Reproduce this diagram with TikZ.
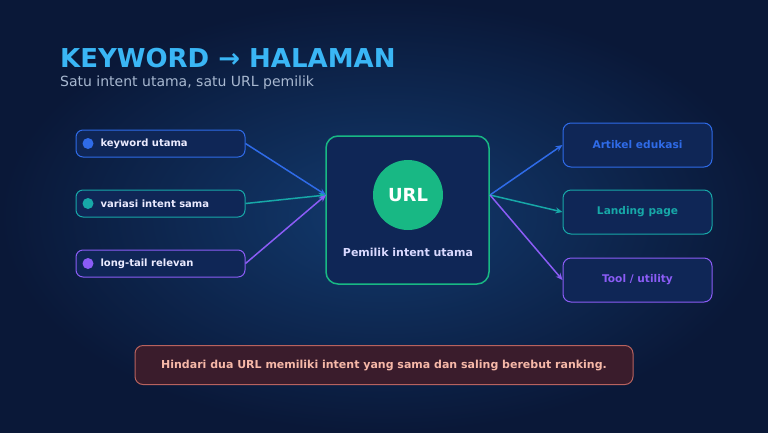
\documentclass[tikz,border=0pt]{standalone}
\usepackage{fontspec}
\setmainfont{DejaVu Sans}
\usetikzlibrary{arrows.meta}
\definecolor{bg}{HTML}{0A1838}
\definecolor{glow}{HTML}{123A6E}
\definecolor{cblue}{HTML}{2F6BE8}
\definecolor{cteal}{HTML}{17A8A8}
\definecolor{cpurp}{HTML}{8B5CF6}
\definecolor{cgreen}{HTML}{18B884}
\definecolor{boxfill}{HTML}{0F2656}
\definecolor{ttl}{HTML}{3AB6F5}
\definecolor{sub}{HTML}{A8B8D0}
\definecolor{warnfill}{HTML}{3A1C2C}
\definecolor{warnline}{HTML}{B8625E}
\definecolor{warntext}{HTML}{F6B8A8}
\begin{document}
\begin{tikzpicture}[x=1pt,y=-1pt,
  inbox/.style={draw=#1,line width=1pt,fill=boxfill,rounded corners=7pt,minimum width=169pt,minimum height=27pt},
  outbox/.style={draw=#1,line width=1pt,fill=boxfill,rounded corners=8pt,minimum width=149pt,minimum height=44pt,text=#1,font=\bfseries\fontsize{10.6}{12}\selectfont},
  lbl/.style={anchor=west,text=white!92!blue,font=\bfseries\fontsize{10}{11}\selectfont},
  arr/.style={draw=#1,line width=1.5pt,-{Stealth[length=7pt,width=6pt]}}]
\useasboundingbox (0,0) rectangle (768,432);
\fill[bg] (0,0) rectangle (768,432);
\fill[inner color=glow,outer color=bg] (0,0) rectangle (768,432);
\node[anchor=base west,text=ttl,font=\bfseries\fontsize{26}{30}\selectfont,inner sep=0] (title) at (60,67) {KEYWORD → HALAMAN};
\node[anchor=base west,text=sub,font=\fontsize{14}{16}\selectfont,inner sep=0] (subt) at (60,86) {Satu intent utama, satu URL pemilik};
\node[inbox=cblue] (k1) at (160.5,143.5) {};
\node[inbox=cteal] (k2) at (160.5,203.5) {};
\node[inbox=cpurp] (k3) at (160.5,263.5) {};
\fill[cblue] (88,143.5) circle (5.5);
\fill[cteal] (88,203.5) circle (5.5);
\fill[cpurp] (88,263.5) circle (5.5);
\node[lbl] (t1) at (97,143.5) {keyword utama};
\node[lbl] (t2) at (97,203.5) {variasi intent sama};
\node[lbl] (t3) at (97,263.5) {long-tail relevan};
\node[draw=cgreen,line width=1.5pt,fill=boxfill,rounded corners=12pt,minimum width=163pt,minimum height=148pt] (c) at (407.5,210) {};
\node[circle,fill=cgreen,minimum size=70pt,text=white,font=\bfseries\fontsize{18}{20}\selectfont] (url) at (408,195) {URL};
\node[text=white!85!blue,font=\bfseries\fontsize{11}{12}\selectfont] (pem) at (408,252) {Pemilik intent utama};
\coordinate (cin) at (326,195);
\coordinate (cout) at (490,195);
\node[outbox=cblue] (o1) at (637.5,145) {Artikel edukasi};
\node[outbox=cteal] (o2) at (637.5,212) {Landing page};
\node[outbox=cpurp] (o3) at (637.5,280) {Tool / utility};
\draw[arr=cblue] (k1.east) -- (cin);
\draw[arr=cteal] (k2.east) -- (cin);
\draw[arr=cpurp] (k3.east) -- (cin);
\draw[arr=cblue] (cout) -- (o1.west);
\draw[arr=cteal] (cout) -- (o2.west);
\draw[arr=cpurp] (cout) -- (o3.west);
\node[draw=warnline,line width=1pt,fill=warnfill,rounded corners=8pt,minimum width=498pt,minimum height=39pt,text=warntext,font=\bfseries\fontsize{11}{12}\selectfont] (warn) at (384,365) {Hindari dua URL memiliki intent yang sama dan saling berebut ranking.};
\end{tikzpicture}
\end{document}
